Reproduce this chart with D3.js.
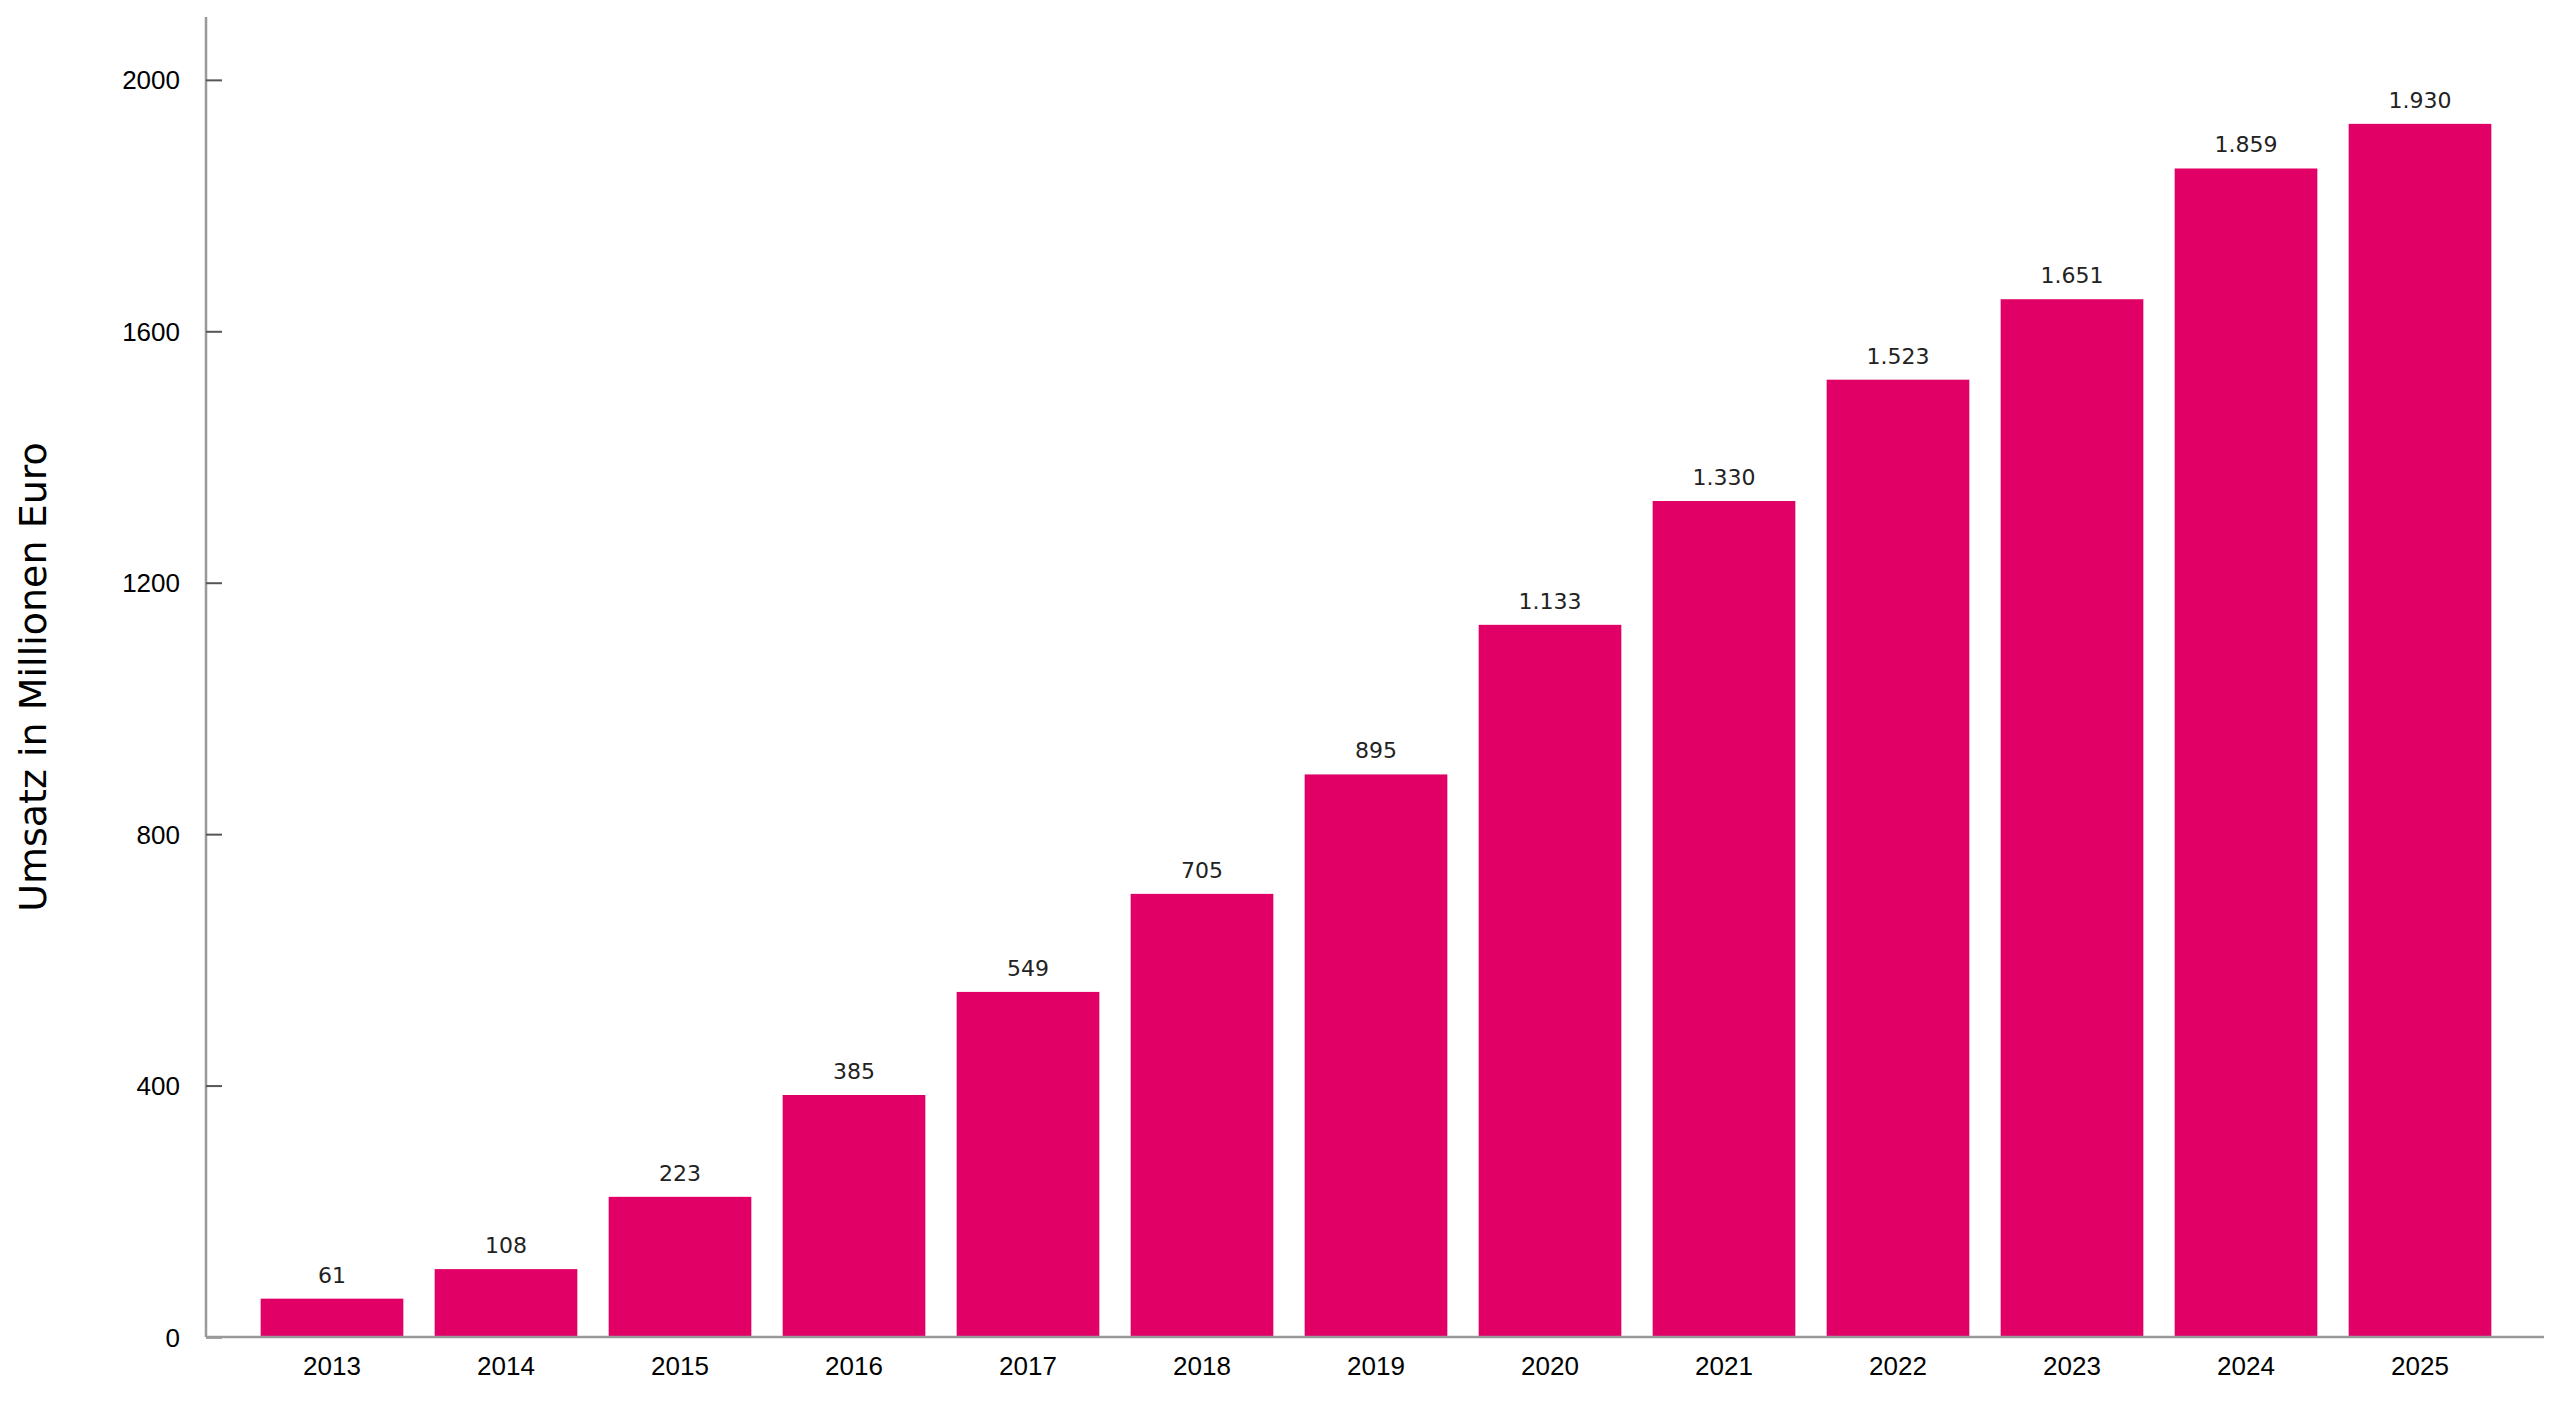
<!DOCTYPE html>
<head>
<meta charset="utf-8">
<style>
  body { margin: 0; background: #fff; font-family: "DejaVu Sans", sans-serif; }
  .tick text { font-size: 26px; fill: #000; }
  .value { font-size: 22px; fill: #222; }
</style>
</head>
<body>
<script src="https://d3js.org/d3.v7.min.js"></script>
<script>
  const years = ["2013","2014","2015","2016","2017","2018","2019","2020","2021","2022","2023","2024","2025"];
  const values = [61, 108, 223, 385, 549, 705, 895, 1133, 1330, 1523, 1651, 1859, 1930];
  const yTicks = [0, 400, 800, 1200, 1600, 2000];

  const svg = d3.select("body").append("svg").attr("width", 2560).attr("height", 1404);

  const x = d3.scaleBand().domain(years).range([245, 2507]).paddingInner(0.18).paddingOuter(0.09);
  const y = d3.scaleLinear().domain([0, 2100]).range([1337, 17]);

  svg.selectAll(".bar").data(values).join("rect")
      .attr("class", "bar")
      .attr("x", (d, i) => x(years[i]))
      .attr("width", x.bandwidth())
      .attr("y", d => y(d))
      .attr("height", d => y(0) - y(d))
      .attr("fill", "#e00066");

  const fmt = d3.formatLocale({decimal: ",", thousands: ".", grouping: [3], currency: ["", "€"]}).format(",d");
  svg.selectAll(".value").data(values).join("text")
      .attr("class", "value")
      .attr("text-anchor", "middle")
      .attr("x", (d, i) => x(years[i]) + x.bandwidth() / 2)
      .attr("y", d => y(d) - 16)
      .text(d => fmt(d));

  const yAxis = svg.append("g").attr("transform", "translate(206,0)")
      .call(d3.axisLeft(y).tickValues(yTicks).tickSize(-16).tickPadding(26).tickFormat(d3.format("d")));
  const xAxis = svg.append("g").attr("transform", "translate(0,1337)")
      .call(d3.axisBottom(x).tickSize(0).tickPadding(20));
  xAxis.select(".domain").attr("d", "M206,0H2544");
  yAxis.select(".domain").attr("d", "M0,1337V17");
  svg.selectAll(".domain").attr("stroke", "#999").attr("stroke-width", 2.5);
  svg.selectAll(".tick line").attr("stroke", "#555").attr("stroke-width", 2);
  yAxis.selectAll(".tick text").attr("dy", "0.35em");

  svg.append("text")
      .attr("transform", "translate(46,677) rotate(-90)")
      .attr("text-anchor", "middle")
      .style("font-size", "38px")
      .text("Umsatz in Millionen Euro");
</script>
</body>
